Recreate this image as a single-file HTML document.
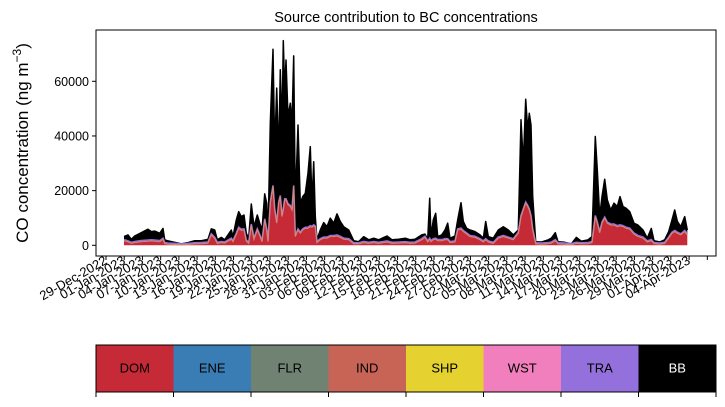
<!DOCTYPE html>
<html><head><meta charset="utf-8"><style>
body{margin:0;background:#fff;}
svg text{font-family:"Liberation Sans",sans-serif;fill:#000;}
</style></head><body>
<svg id="chart" width="725" height="402" viewBox="0 0 725 402" xmlns="http://www.w3.org/2000/svg">
<text x="406" y="22" font-size="14.5" text-anchor="middle">Source contribution to BC concentrations</text>
<text transform="translate(28,143) rotate(-90)" font-size="17" text-anchor="middle">CO concentration (ng m<tspan baseline-shift="super" font-size="12">−3</tspan>)</text>
<g id="plot"></g>
<rect x="96" y="30" width="620" height="226" fill="none" stroke="#000" stroke-width="1"/>
<g id="xticks"></g>
<g id="yticks"></g>
<g id="cbar"></g>
</svg>
<script>
const days=[2.96,3.62,4.17,4.73,5.81,6.91,7.46,8.02,8.84,9.38,9.66,10.21,11.31,12.40,13.50,14.60,15.69,16.79,17.34,17.90,18.32,18.98,19.54,20.09,20.63,20.91,21.45,21.85,22.28,22.72,23.10,23.49,23.92,24.37,24.91,25.30,25.68,26.13,26.46,26.67,27.05,27.49,27.77,28.10,28.43,28.70,28.98,29.19,29.42,29.63,29.96,30.34,30.62,30.90,31.17,31.61,31.99,32.38,32.81,33.26,33.64,33.92,34.20,34.46,34.74,35.28,35.84,36.38,36.93,37.49,38.03,38.57,39.13,39.96,40.78,41.60,42.43,43.25,44.07,44.90,46.26,47.09,48.19,49.28,50.10,50.87,51.98,52.52,52.97,53.29,53.51,53.89,54.28,54.61,55.27,55.81,56.26,56.63,57.46,57.90,58.45,58.82,59.38,59.93,60.75,61.57,62.12,62.51,62.94,63.76,64.59,65.41,66.23,67.06,67.88,68.32,68.70,69.10,69.43,69.69,69.97,70.25,70.74,71.73,72.82,73.31,73.97,74.42,75.52,76.61,77.43,78.25,79.36,80.01,80.56,80.89,81.28,81.66,82.10,82.53,83.09,83.63,84.18,84.62,85.12,85.66,86.22,86.93,87.59,88.41,89.12,89.78,90.22,91.16,91.98,92.64,93.19,93.63,94.07,94.63,95.27,95.70];
const totalK=[3.2,3.8,2.2,3.4,4.6,5.9,5.0,5.2,4.4,6.2,2.0,1.6,1.1,0.5,1.0,1.7,1.7,2.2,6.0,5.6,2.0,2.9,2.0,3.8,5.6,3.2,9.3,12.3,10.5,11.1,4.4,2.6,15.1,6.8,11.1,8.1,5.6,18.8,15.4,3.2,44.7,71.7,34.9,57.5,32.5,64.2,42.2,74.9,55.6,67.8,47.1,52.0,44.7,69.3,15.4,44.0,15.4,17.8,19.0,26.4,36.1,15.4,30.6,10.5,2.0,5.6,8.3,6.8,9.9,8.1,11.5,8.7,6.8,5.6,1.7,1.3,3.2,2.0,2.6,2.0,3.4,2.0,2.2,2.6,2.0,2.2,3.8,4.1,2.2,17.2,3.2,9.3,11.7,3.2,3.8,5.6,8.1,2.6,3.4,9.3,15.6,8.7,6.2,5.6,5.0,3.8,2.6,8.7,3.2,2.6,5.6,6.8,5.6,3.8,5.6,45.9,30.0,53.4,42.2,48.3,44.0,17.8,1.3,1.2,2.0,2.6,4.6,1.3,1.1,0.5,2.9,1.5,2.0,3.2,39.8,27.6,10.5,17.8,24.2,16.6,12.9,15.4,14.2,17.8,14.2,13.5,12.3,8.1,7.4,5.6,2.6,6.2,1.7,1.2,2.0,5.0,9.3,12.9,8.7,6.8,10.5,5.6];
const domK=[1.7,1.2,0.7,1.0,1.3,1.5,1.6,1.5,1.3,2.2,0.6,0.4,0.3,0.1,0.3,0.5,0.6,0.8,3.8,2.5,0.7,1.0,0.8,1.5,2.2,1.3,4.0,6.2,5.5,5.6,1.5,0.7,7.4,2.2,5.6,3.5,1.3,9.3,5.6,1.3,15.4,21.5,12.9,8.1,15.4,17.8,10.5,12.9,16.6,16.6,14.8,14.2,12.9,21.5,3.2,5.6,4.4,5.6,6.2,6.2,6.8,6.6,7.1,6.6,1.0,2.0,2.6,2.6,3.2,3.2,3.4,2.9,2.2,2.0,0.5,0.5,1.0,0.7,1.0,0.7,1.2,0.7,0.8,0.9,0.7,0.8,2.0,2.9,1.2,2.2,1.3,2.0,2.2,1.7,1.7,2.0,2.0,1.0,1.2,5.6,5.9,5.0,4.1,3.2,2.9,2.0,1.2,2.0,1.2,0.7,2.6,3.2,2.6,2.0,4.4,10.5,12.9,15.4,14.2,12.9,10.5,5.6,0.5,0.4,0.6,0.8,1.7,0.5,0.4,0.2,0.7,0.5,0.6,1.0,10.5,8.1,4.6,8.1,9.9,8.1,7.4,7.4,6.8,7.1,6.8,6.2,5.9,4.1,3.2,2.6,1.2,1.7,0.6,0.4,0.7,2.6,4.4,5.0,4.4,3.8,5.0,3.8];
const yTicks=[0,20000,40000,60000];
const xLabels=["29-Dec-2022","01-Jan-2023","04-Jan-2023","07-Jan-2023","10-Jan-2023","13-Jan-2023","16-Jan-2023","19-Jan-2023","22-Jan-2023","25-Jan-2023","28-Jan-2023","31-Jan-2023","03-Feb-2023","06-Feb-2023","09-Feb-2023","12-Feb-2023","15-Feb-2023","18-Feb-2023","21-Feb-2023","24-Feb-2023","27-Feb-2023","02-Mar-2023","05-Mar-2023","08-Mar-2023","11-Mar-2023","14-Mar-2023","17-Mar-2023","20-Mar-2023","23-Mar-2023","26-Mar-2023","29-Mar-2023","01-Apr-2023","04-Apr-2023",""];
const sources=["DOM","ENE","FLR","IND","SHP","WST","TRA","BB"];
const sourceColors=["#c62a37","#3a7db5","#708373","#c76455","#e5d12f","#f27fbd","#9370db","#000000"];

const NS="http://www.w3.org/2000/svg";
const xs=d=>106+d*6.074;
const ys=v=>245.3-v*164/60000;
function mk(tag,attrs,parent){const e=document.createElementNS(NS,tag);for(const k in attrs)e.setAttribute(k,attrs[k]);parent.appendChild(e);return e;}
const plot=document.getElementById('plot');
function areaPath(lo,hi){
  let p='';
  days.forEach((d,i)=>{p+=(i?'L':'M')+xs(d).toFixed(1)+','+ys(hi[i]*1000).toFixed(1);});
  for(let i=days.length-1;i>=0;i--){p+='L'+xs(days[i]).toFixed(1)+','+ys(lo[i]*1000).toFixed(1);}
  return p+'Z';
}
function linePath(arr){let p='';days.forEach((d,i)=>{p+=(i?'L':'M')+xs(d).toFixed(1)+','+ys(arr[i]*1000).toFixed(1);});return p;}
const zeros=days.map(()=>0);
const bbArea=mk('path',{d:areaPath(domK,totalK),fill:'#000'},plot);


const bbLine=mk('path',{d:linePath(totalK),fill:'none',stroke:'#000','stroke-width':1.5,'stroke-linejoin':'round'},plot);


const domArea=mk('path',{d:areaPath(zeros,domK),fill:'#c62a37'},plot);


const traLine=mk('path',{d:linePath(domK),fill:'none',stroke:'#9370db','stroke-width':1.6,transform:'translate(0,-1.1)'},plot);


const indLine=mk('path',{d:linePath(domK),fill:'none',stroke:'#d98a6a','stroke-width':1},plot);



const yt=document.getElementById('yticks');
yTicks.forEach(v=>{
  const y=ys(v);
  mk('line',{x1:92,x2:96,y1:y,y2:y,stroke:'#000'},yt);
  const t=mk('text',{x:89,y:y+4.5,'font-size':12.5,'text-anchor':'end'},yt);
  t.textContent=v;
  
  
});
const xt=document.getElementById('xticks');
xLabels.forEach((lab,i)=>{
  const x=xs(i*3);
  mk('line',{x1:x,x2:x,y1:256,y2:260,stroke:'#000'},xt);
  if(lab){
    const t=mk('text',{transform:`translate(${x+2},${263}) rotate(-30)`,'font-size':13,'text-anchor':'end'},xt);
    t.textContent=lab;
    
    
  }
});
const cb=document.getElementById('cbar');
const w=620/sources.length;
sources.forEach((s,i)=>{
  const r=mk('rect',{x:96+i*w,y:345,width:w,height:47,fill:sourceColors[i]},cb);
  
  
  const t=mk('text',{x:96+i*w+w/2,y:372.5,'font-size':13,'text-anchor':'middle'},cb);
  t.textContent=s;
  if(s==='BB')t.setAttribute('style','fill:#fff');
  
  
});
mk('rect',{x:96,y:345,width:620,height:47,fill:'none',stroke:'#000'},cb);
for(let i=0;i<=sources.length;i++){mk('line',{x1:96+i*w,x2:96+i*w,y1:392,y2:397,stroke:'#000'},cb);}
</script>
</body></html>
